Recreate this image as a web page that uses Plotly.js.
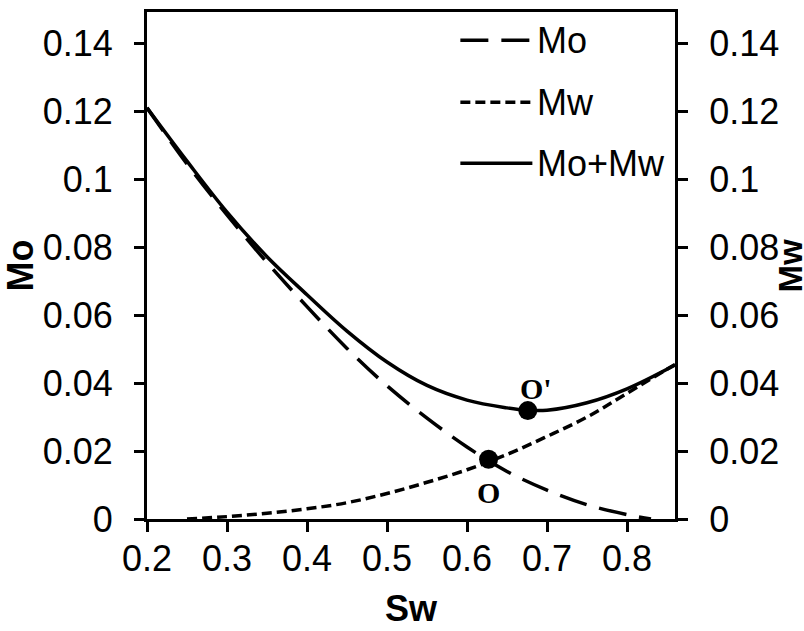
<!DOCTYPE html>
<html><head><meta charset="utf-8">
<script src="https://cdn.plot.ly/plotly-3.0.1.min.js"></script>
<style>html,body{margin:0;padding:0;background:#fff}#chart{width:804px;height:631px}</style>
</head><body><div id="chart"></div>
<script>
// Mo (oil mobility) vs Sw
const swMo = [0.20, 0.25, 0.30, 0.35, 0.40, 0.45, 0.50, 0.55, 0.60, 0.65, 0.70, 0.75, 0.80, 0.83];
const mo   = [0.121, 0.1045, 0.0895, 0.0755, 0.0625, 0.0502, 0.0392, 0.0297, 0.0212, 0.0140, 0.0085, 0.0042, 0.0013, 0.0];
// Mw (water mobility) vs Sw
const swMw = [0.25, 0.30, 0.35, 0.40, 0.45, 0.50, 0.55, 0.60, 0.65, 0.70, 0.75, 0.80, 0.86];
const mw   = [0.0, 0.0007, 0.0017, 0.0030, 0.0048, 0.0075, 0.0108, 0.0145, 0.0190, 0.0243, 0.0300, 0.0370, 0.0455];
// Mo+Mw total vs Sw
const swT  = [0.20, 0.25, 0.30, 0.35, 0.40, 0.45, 0.50, 0.55, 0.60, 0.65, 0.675, 0.70, 0.75, 0.80, 0.86];
const tot  = [0.121, 0.1053, 0.0903, 0.0772, 0.0660, 0.0553, 0.0462, 0.0393, 0.0350, 0.0327, 0.0320, 0.0320, 0.0342, 0.0383, 0.0453];
// marked points O (Mo = Mw crossing) and O' (minimum of total)
const ptNames = ["O", "O'"];
const ptSw = [0.627, 0.676];
const ptM  = [0.0176, 0.0319];
// axis ticks
const yTicks = [0, 0.02, 0.04, 0.06, 0.08, 0.1, 0.12, 0.14];
const yTickText = ["0", "0.02", "0.04", "0.06", "0.08", "0.1", "0.12", "0.14"];
const xTicks = [0.2, 0.3, 0.4, 0.5, 0.6, 0.7, 0.8];
const xTickText = ["0.2", "0.3", "0.4", "0.5", "0.6", "0.7", "0.8"];
const legendNames = ["Mo", "Mw", "Mo+Mw"];

const FONT = "Liberation Sans, Arial, sans-serif";
const SERIF = "Liberation Serif, Times New Roman, serif";
const dashMo = "28px,13px";
const dashMw = "10px,5px";
const LW = 3.5;

const traces = [
  {x: swMo, y: mo, name: "Mo", mode: "lines", line: {color: "#000", width: LW, dash: dashMo, shape: "spline"}, showlegend: false},
  {x: swMw, y: mw, name: "Mw", mode: "lines", yaxis: "y2", line: {color: "#000", width: LW, dash: dashMw, shape: "spline"}, showlegend: false},
  {x: swT, y: tot, name: "Mo+Mw", mode: "lines", line: {color: "#000", width: LW, shape: "spline"}, showlegend: false},
  {x: ptSw, y: ptM, name: "points", mode: "markers", marker: {color: "#000", size: 19}, showlegend: false}
];

const yRange = [0, 0.1492];
const axisCommon = {
  showgrid: false, zeroline: false, showline: true, linecolor: "#000", linewidth: 3,
  ticks: "outside", ticklen: 10, tickwidth: 3, tickcolor: "#000",
  tickfont: {family: FONT, size: 36, color: "#000"}
};

// manual legend (line samples + labels) in paper coordinates
const W = 804, H = 631, L = 146.7, R = 674.6, T = 11.7, B = 519;
const px = v => (v - L) / (R - L);
const py = v => (B - v) / (B - T);
const legRows = [40, 102, 163];
const legDash = [dashMo, dashMw, "solid"];
const shapes = legRows.map((r, i) => ({
  type: "line", xref: "paper", yref: "paper",
  x0: px(460), x1: px(532), y0: py(r), y1: py(r),
  line: {color: "#000", width: LW, dash: legDash[i]}
}));
const annotations = legRows.map((r, i) => ({
  xref: "paper", yref: "paper", x: px(535), y: py(r), xanchor: "left", yanchor: "middle",
  text: legendNames[i], showarrow: false, font: {family: FONT, size: 36, color: "#000"}
}));
annotations.push({x: ptSw[0], y: ptM[0], xref: "x", yref: "y", text: "<b>" + ptNames[0] + "</b>", showarrow: false,
  yshift: -33, xshift: 0, font: {family: SERIF, size: 30, color: "#000"}});
annotations.push({x: ptSw[1], y: ptM[1], xref: "x", yref: "y", text: "<b>" + ptNames[1] + "</b>", showarrow: false,
  yshift: 22, xshift: 8, font: {family: SERIF, size: 30, color: "#000"}});
// right axis title
annotations.push({xref: "paper", yref: "paper", x: px(790), y: py(266), xanchor: "center", yanchor: "middle",
  textangle: -90, text: "<b>Mw</b>", showarrow: false, font: {family: FONT, size: 33, color: "#000"}});

const layout = {
  width: W, height: H,
  margin: {l: L, r: W - R, t: T, b: H - B, pad: 0},
  paper_bgcolor: "#fff", plot_bgcolor: "#fff",
  showlegend: false,
  xaxis: Object.assign({}, axisCommon, {
    range: [0.2, 0.86], tickvals: xTicks, ticktext: xTickText, mirror: true,
    ticklabelstandoff: -4,
    title: {text: "<b>Sw</b>", font: {family: FONT, size: 36, color: "#000"}, standoff: 18},
    automargin: false
  }),
  yaxis: Object.assign({}, axisCommon, {
    range: yRange, tickvals: yTicks, ticktext: yTickText,
    ticklabelstandoff: 14,
    title: {text: "<b>Mo</b>", font: {family: FONT, size: 36, color: "#000"}, standoff: 0},
    automargin: false
  }),
  yaxis2: Object.assign({}, axisCommon, {
    range: yRange, tickvals: yTicks, ticktext: yTickText, overlaying: "y", side: "right",
    ticklabelstandoff: 14,
    automargin: false
  }),
  shapes: shapes,
  annotations: annotations
};

Plotly.newPlot("chart", traces, layout, {displayModeBar: false, staticPlot: true});
</script>
</body></html>
